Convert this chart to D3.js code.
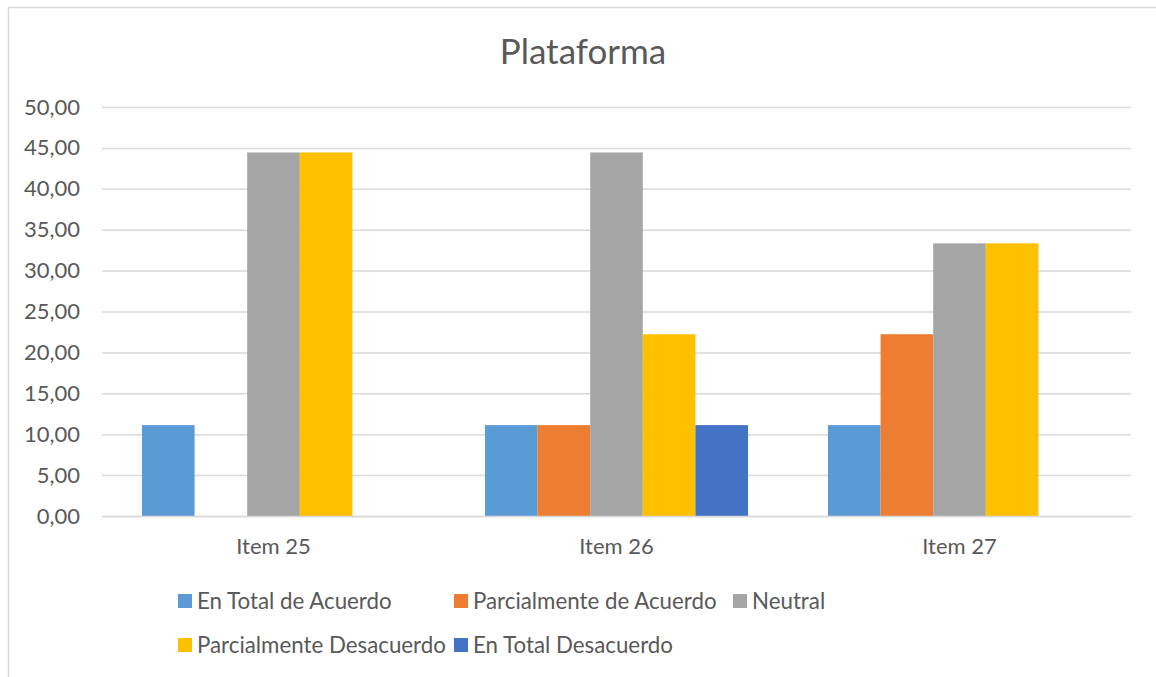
<!DOCTYPE html>
<html>
<head>
<meta charset="utf-8">
<script src="https://cdn.jsdelivr.net/npm/d3@7"></script>
<style>
  html, body { margin: 0; padding: 0; background: #fff; }
  svg { display: block; font-family: Lato, "Open Sans", sans-serif; }
</style>
</head>
<body>
<svg id="chart" width="1156" height="677"></svg>
<script>
// Survey results for the "Plataforma" block, in percent of respondents
const categories = ["Item 25", "Item 26", "Item 27"];
const seriesNames = [
  "En Total de Acuerdo",
  "Parcialmente de Acuerdo",
  "Neutral",
  "Parcialmente Desacuerdo",
  "En Total Desacuerdo"
];
const enTotalDeAcuerdo       = [11.11, 11.11, 11.11];
const parcialmenteDeAcuerdo  = [0, 11.11, 22.22];
const neutral                = [44.44, 44.44, 33.33];
const parcialmenteDesacuerdo = [44.44, 22.22, 33.33];
const enTotalDesacuerdo      = [0, 11.11, 0];
const yTicks = [0, 5, 10, 15, 20, 25, 30, 35, 40, 45, 50];
const colors = ["#5B9BD5", "#ED7D31", "#A5A5A5", "#FFC000", "#4472C4"];

const seriesValues = [enTotalDeAcuerdo, parcialmenteDeAcuerdo, neutral,
                      parcialmenteDesacuerdo, enTotalDesacuerdo];

const svg = d3.select("#chart");
const textColor = "#595959";
const gridColor = "#D9D9D9";

// Chart frame
svg.append("rect")
  .attr("x", 8.5).attr("y", 7.5)
  .attr("width", 1160).attr("height", 680)
  .attr("fill", "#fff")
  .attr("stroke", gridColor).attr("stroke-width", 1.5);

const plot = { left: 102, right: 1131, top: 107, bottom: 516 };

const x0 = d3.scaleBand()
  .domain(categories)
  .range([plot.left, plot.right])
  .paddingInner(0.233)
  .paddingOuter(0.1165);

const x1 = d3.scaleBand()
  .domain(seriesNames)
  .range([0, x0.bandwidth()]);

const y = d3.scaleLinear()
  .domain([0, 50])
  .range([plot.bottom, plot.top]);

// Title
svg.append("text")
  .attr("x", 583).attr("y", 64)
  .attr("text-anchor", "middle")
  .attr("font-size", 35)
  .attr("fill", textColor)
  .text("Plataforma");

// Horizontal gridlines and value labels
const yAxis = d3.axisLeft(y)
  .tickValues(yTicks)
  .tickSize(-(plot.right - plot.left))
  .tickPadding(22)
  .tickFormat(d => d3.format(".2f")(d).replace(".", ","));

const yg = svg.append("g")
  .attr("transform", `translate(${plot.left},0)`)
  .call(yAxis);
yg.select(".domain").remove();
yg.selectAll(".tick line").attr("stroke", gridColor).attr("stroke-width", 1.5);
yg.selectAll(".tick text")
  .attr("fill", textColor)
  .attr("font-size", 22)
  .attr("font-family", "Lato, sans-serif");

// Bars
const rows = categories.map((c, i) => ({
  category: c,
  values: seriesNames.map((s, j) => ({ series: s, idx: j, value: seriesValues[j][i] }))
}));

svg.append("g")
  .selectAll("g")
  .data(rows)
  .join("g")
  .attr("transform", d => `translate(${x0(d.category)},0)`)
  .selectAll("rect")
  .data(d => d.values.filter(v => v.value > 0))
  .join("rect")
  .attr("x", d => x1(d.series))
  .attr("y", d => y(d.value))
  .attr("width", x1.bandwidth())
  .attr("height", d => y(0) - y(d.value))
  .attr("fill", d => colors[d.idx]);

// Category axis labels
const xAxis = d3.axisBottom(x0).tickSize(0).tickPadding(22);
const xg = svg.append("g")
  .attr("transform", `translate(0,${plot.bottom})`)
  .call(xAxis);
xg.select(".domain")
  .attr("stroke", gridColor).attr("stroke-width", 1.5);
xg.selectAll(".tick text")
  .attr("fill", textColor)
  .attr("font-size", 22)
  .attr("font-family", "Lato, sans-serif");

// Legend: three columns, two rows
const legendCols = [178, 454, 733];
const legendRows = [601, 645];
const legend = svg.append("g")
  .selectAll("g")
  .data(seriesNames)
  .join("g")
  .attr("transform", (d, i) => `translate(${legendCols[i % 3]},${legendRows[Math.floor(i / 3)]})`);

legend.append("rect")
  .attr("x", 0).attr("y", -7)
  .attr("width", 14).attr("height", 14)
  .attr("fill", (d, i) => colors[i]);

legend.append("text")
  .attr("x", 19).attr("y", 0)
  .attr("dy", "0.35em")
  .attr("font-size", 22.3)
  .attr("fill", textColor)
  .text(d => d);
</script>
</body>
</html>
